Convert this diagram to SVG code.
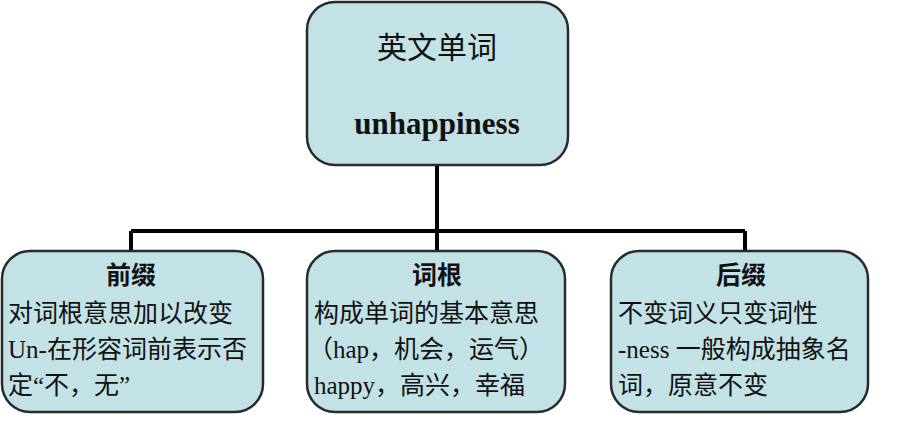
<svg xmlns="http://www.w3.org/2000/svg" width="900" height="444" viewBox="0 0 900 444">
<style>
.box{fill:#c3e2e6;stroke:#2a2a2a;stroke-width:2.5}
.cn{stroke:#000;stroke-width:4;fill:none}
.t{font-family:"Liberation Serif","Noto Sans CJK SC",serif;font-size:25px;fill:#111}
.h{font-family:"Noto Sans CJK SC",sans-serif;font-size:25px;font-weight:bold;fill:#111}
</style>
<rect width="900" height="444" fill="#fff"/>
<g id="connectors">
<path class="cn" d="M437 165V231M131 231H745M131 231V252M437 231V252M745 231V252"/>
</g>
<g id="root">
<rect class="box" x="307" y="2" width="261" height="163" rx="28"/>
<text class="t" x="437" y="58" text-anchor="middle" style="font-size:30px">英文单词</text>
<text class="t" x="437" y="134" text-anchor="middle" style="font-size:31px;font-weight:bold">unhappiness</text>
</g>
<g id="prefix">
<rect class="box" x="2" y="251" width="261" height="161" rx="28"/>
<text class="h" x="131" y="284" text-anchor="middle">前缀</text>
<text class="t" x="8" y="322">对词根意思加以改变</text>
<text class="t" x="8" y="358">Un-在形容词前表示否</text>
<text class="t" x="8" y="394">定“不，无”</text>
</g>
<g id="root-word">
<rect class="box" x="307" y="251" width="258" height="161" rx="28"/>
<text class="h" x="437" y="284" text-anchor="middle">词根</text>
<text class="t" x="314" y="322">构成单词的基本意思</text>
<text class="t" x="308" y="358">（hap，机会，运气）</text>
<text class="t" x="314" y="394">happy，高兴，幸福</text>
</g>
<g id="suffix">
<rect class="box" x="611" y="251" width="257" height="161" rx="28"/>
<text class="h" x="741" y="284" text-anchor="middle">后缀</text>
<text class="t" x="618" y="322">不变词义只变词性</text>
<text class="t" x="618" y="358">-ness 一般构成抽象名</text>
<text class="t" x="618" y="394">词，原意不变</text>
</g>
</svg>
